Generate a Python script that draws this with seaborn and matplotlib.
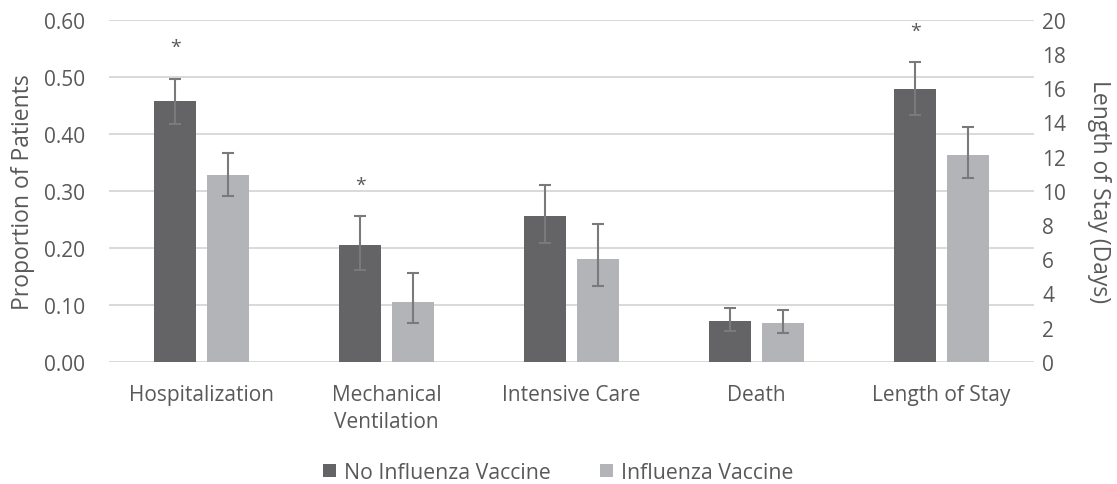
import numpy as np
import pandas as pd
import matplotlib
matplotlib.use("Agg")
import matplotlib.pyplot as plt
from matplotlib.patches import Patch
from matplotlib.ticker import FormatStrFormatter
import seaborn as sns

categories = ["Hospitalization", "Mechanical\nVentilation", "Intensive Care", "Death", "Length of Stay"]
groups = ["No Influenza Vaccine", "Influenza Vaccine"]
no_vacc = [0.457, 0.204, 0.256, 0.071, 15.95]
no_vacc_lo = [0.418, 0.161, 0.209, 0.054, 14.44]
no_vacc_hi = [0.497, 0.256, 0.311, 0.095, 17.54]
vacc = [0.327, 0.104, 0.181, 0.068, 12.09]
vacc_lo = [0.291, 0.068, 0.133, 0.051, 10.73]
vacc_hi = [0.366, 0.155, 0.241, 0.091, 13.71]
significant = [True, True, False, False, True]
left_ticks = [0.0, 0.1, 0.2, 0.3, 0.4, 0.5, 0.6]
right_ticks = [0, 2, 4, 6, 8, 10, 12, 14, 16, 18, 20]
right_category = "Length of Stay"

colors = ["#646466", "#b3b4b7"]
text_color = "#595959"
err_color = "#7a7a7c"
grid_color = "#d9d9d9"

rows = []
for i, c in enumerate(categories):
    rows.append((c, groups[0], no_vacc[i], no_vacc_lo[i], no_vacc_hi[i]))
    rows.append((c, groups[1], vacc[i], vacc_lo[i], vacc_hi[i]))
df = pd.DataFrame(rows, columns=["category", "group", "value", "lo", "hi"])
df_left = df[df["category"] != right_category]
df_right = df[df["category"] == right_category]

sns.set_theme(style="white")
plt.rcParams["font.family"] = ["Open Sans", "DejaVu Sans"]

fig = plt.figure(figsize=(11.17, 4.85), dpi=100)
ax = fig.add_axes([0.0976, 0.2522, 0.828, 0.7048])

common = dict(x="category", y="value", hue="group", order=categories, hue_order=groups,
              palette=colors, width=0.57, gap=0.21, errorbar=None, legend=False,
              linewidth=0, saturation=1)
sns.barplot(data=df_left, ax=ax, **common)
ax2 = ax.twinx()
sns.barplot(data=df_right, ax=ax2, **common)

def add_errors(axis, data):
    for bar in axis.patches:
        h = bar.get_height()
        if h is None or np.isnan(h) or h == 0:
            continue
        xc = bar.get_x() + bar.get_width() / 2
        ci = int(round(xc))
        gi = 0 if xc < ci else 1
        row = data[(data["category"] == categories[ci]) & (data["group"] == groups[gi])]
        if row.empty:
            continue
        lo = float(row["lo"].iloc[0]); hi = float(row["hi"].iloc[0])
        axis.errorbar([xc], [h], yerr=[[h - lo], [hi - h]], fmt="none",
                      ecolor=err_color, elinewidth=1.5, capsize=4.5, capthick=1.5, zorder=5)
        if gi == 0 and significant[ci]:
            axis.annotate("*", (xc, hi), xytext=(0, 16), textcoords="offset points",
                          ha="center", va="bottom", fontsize=14, color=text_color)

add_errors(ax, df_left)
add_errors(ax2, df_right)

ax.set_ylim(0, 0.6)
ax.set_yticks(left_ticks)
ax.yaxis.set_major_formatter(FormatStrFormatter("%.2f"))
ax2.set_ylim(0, 20)
ax2.set_yticks(right_ticks)
ax.set_xlim(-0.5, len(categories) - 0.5)

ax.set_axisbelow(True)
ax.grid(axis="y", color=grid_color, linewidth=1.4)
ax.grid(axis="x", visible=False)
ax2.grid(False)
for a in (ax, ax2):
    for s in a.spines.values():
        s.set_visible(False)
    a.tick_params(length=0, colors=text_color, labelsize=15)
    a.set_xlabel("")
ax.tick_params(axis="y", pad=17)
ax.tick_params(axis="x", pad=16)
for lbl in ax.get_xticklabels():
    lbl.set_linespacing(1.35)
ax2.tick_params(axis="y", pad=6)

ax.set_ylabel("Proportion of Patients", fontsize=16.5, color=text_color, labelpad=7)
ax2.set_ylabel("Length of Stay (Days)", fontsize=16.5, color=text_color, rotation=270,
               labelpad=32)

handles = [Patch(facecolor=colors[i], edgecolor="none", label=groups[i]) for i in range(2)]
leg = fig.legend(handles=handles, loc="center", bbox_to_anchor=(0.5, 0.024), ncol=2,
                 frameon=False, fontsize=15.3, handlelength=0.6, handleheight=0.6,
                 handletextpad=0.4, columnspacing=2.3)
for t in leg.get_texts():
    t.set_color(text_color)

fig.savefig("out.png", dpi=100)
